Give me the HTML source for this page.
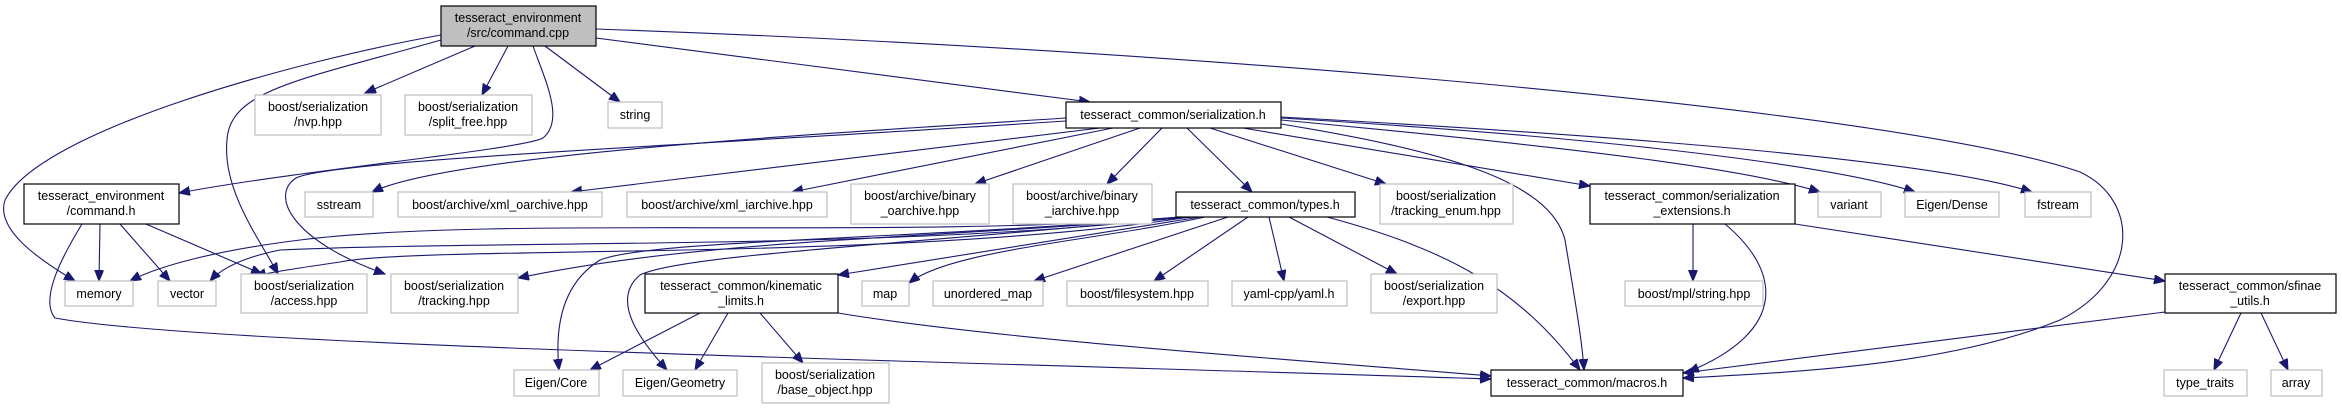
<!DOCTYPE html>
<html><head><meta charset="utf-8"><style>
html,body{margin:0;padding:0;background:#fff;}
svg{display:block;}
text{font-family:"Liberation Sans",sans-serif;font-size:12.5px;fill:#000;text-anchor:middle;}
.e{fill:none;stroke:#191970;stroke-width:1.1;marker-end:url(#a);}
.x{fill:#fff;stroke:#bfbfbf;stroke-width:1.2;}
.i{fill:#fff;stroke:#000;stroke-width:1.2;}
</style></head><body>
<svg width="2342" height="409" viewBox="0 0 2342 409" xmlns="http://www.w3.org/2000/svg">
<defs><marker id="a" markerUnits="userSpaceOnUse" markerWidth="12" markerHeight="10" refX="11" refY="4.5" orient="auto"><path d="M0,0 L11,4.5 L0,9 z" fill="#191970" stroke="#191970"/></marker></defs>
<g>
<path class="e" d="M441,35 C300,60 40,130 5,200 C-5,230 40,260 75,281"/>
<path class="e" d="M441,40 C300,80 230,90 227,140 C222,190 260,240 278,274"/>
<path class="e" d="M475,46 L365,93"/>
<path class="e" d="M508,46 L482,95"/>
<path class="e" d="M533,46 C545,80 565,120 543,138 C520,150 300,170 179,193"/>
<path class="e" d="M545,46 L620,102"/>
<path class="e" d="M596,38 L1090,102"/>
<path class="e" d="M596,29 C1200,50 1900,110 2080,172 C2140,200 2140,280 2060,320 C1950,365 1800,372 1683,378"/>
<path class="e" d="M1066,118 C800,135 450,155 372,192"/>
<path class="e" d="M1066,121 C700,145 330,160 296,178 C270,195 290,240 385,274"/>
<path class="e" d="M1100,128 L571,192"/>
<path class="e" d="M1113,128 L792,192"/>
<path class="e" d="M1140,128 L975,184"/>
<path class="e" d="M1162,128 L1107,184"/>
<path class="e" d="M1187,128 L1252,192"/>
<path class="e" d="M1210,128 L1386,184"/>
<path class="e" d="M1243,128 L1590,186"/>
<path class="e" d="M1281,124 C1440,150 1550,180 1565,240 C1575,300 1582,340 1584,370"/>
<path class="e" d="M1281,120 C1600,150 1750,170 1820,192"/>
<path class="e" d="M1281,118 C1650,140 1850,170 1915,192"/>
<path class="e" d="M1281,117 C1700,140 1950,165 2032,192"/>
<path class="e" d="M1180,217 C900,240 500,215 300,240 C220,250 160,265 130,281"/>
<path class="e" d="M1185,217 C900,250 500,240 280,250 C240,258 220,270 210,281"/>
<path class="e" d="M1190,217 C900,262 420,245 340,262 C300,268 270,272 255,276"/>
<path class="e" d="M1195,217 C900,240 700,240 518,278"/>
<path class="e" d="M1200,217 L838,275"/>
<path class="e" d="M1205,217 C1100,240 950,250 909,283"/>
<path class="e" d="M1228,217 L1034,281"/>
<path class="e" d="M1248,217 L1154,281"/>
<path class="e" d="M1269,217 L1284,281"/>
<path class="e" d="M1289,217 L1397,274"/>
<path class="e" d="M1327,217 C1450,250 1520,290 1580,370"/>
<path class="e" d="M1180,217 C900,240 650,240 600,260 C560,285 555,330 559,370"/>
<path class="e" d="M1185,217 C900,245 680,255 640,275 C610,300 640,340 667,370"/>
<path class="e" d="M100,224 L99,281"/>
<path class="e" d="M120,224 L170,281"/>
<path class="e" d="M146,224 L262,274"/>
<path class="e" d="M82,224 C60,260 40,300 55,318 C200,345 900,360 1491,379"/>
<path class="e" d="M700,313 L590,370"/>
<path class="e" d="M728,313 L695,370"/>
<path class="e" d="M760,313 L803,363"/>
<path class="e" d="M838,313 C1000,340 1300,360 1491,376"/>
<path class="e" d="M1693,224 L1693,281"/>
<path class="e" d="M1725,224 C1780,270 1790,330 1688,372"/>
<path class="e" d="M1795,224 L2165,281"/>
<path class="e" d="M2165,312 L1683,373"/>
<path class="e" d="M2241,313 L2214,370"/>
<path class="e" d="M2261,313 L2288,370"/>
</g>
<g>
<rect x="441" y="6" width="155" height="40" fill="#bfbfbf" stroke="#000" stroke-width="1.2"/>
<text x="518" y="22">tesseract_environment</text><text x="518" y="37">/src/command.cpp</text>
<rect class="x" x="255" y="95" width="126" height="40"/><text x="318" y="111">boost/serialization</text><text x="318" y="126">/nvp.hpp</text>
<rect class="x" x="405" y="95" width="127" height="40"/><text x="468" y="111">boost/serialization</text><text x="468" y="126">/split_free.hpp</text>
<rect class="x" x="608" y="102" width="54" height="26"/><text x="635" y="119">string</text>
<rect class="i" x="1066" y="102" width="215" height="26"/><text x="1173" y="119">tesseract_common/serialization.h</text>
<rect class="i" x="24" y="184" width="155" height="40"/><text x="101" y="200">tesseract_environment</text><text x="101" y="215">/command.h</text>
<rect class="x" x="305" y="192" width="68" height="25"/><text x="339" y="209">sstream</text>
<rect class="x" x="398" y="192" width="204" height="25"/><text x="500" y="209">boost/archive/xml_oarchive.hpp</text>
<rect class="x" x="627" y="192" width="200" height="25"/><text x="727" y="209">boost/archive/xml_iarchive.hpp</text>
<rect class="x" x="851" y="184" width="138" height="40"/><text x="920" y="200">boost/archive/binary</text><text x="920" y="215">_oarchive.hpp</text>
<rect class="x" x="1013" y="184" width="139" height="40"/><text x="1082" y="200">boost/archive/binary</text><text x="1082" y="215">_iarchive.hpp</text>
<rect class="i" x="1176" y="192" width="179" height="25"/><text x="1265" y="209">tesseract_common/types.h</text>
<rect class="x" x="1380" y="184" width="133" height="40"/><text x="1446" y="200">boost/serialization</text><text x="1446" y="215">/tracking_enum.hpp</text>
<rect class="i" x="1590" y="184" width="205" height="40"/><text x="1692" y="200">tesseract_common/serialization</text><text x="1692" y="215">_extensions.h</text>
<rect class="x" x="1818" y="192" width="63" height="25"/><text x="1849" y="209">variant</text>
<rect class="x" x="1905" y="192" width="94" height="25"/><text x="1952" y="209">Eigen/Dense</text>
<rect class="x" x="2025" y="192" width="66" height="25"/><text x="2058" y="209">fstream</text>
<rect class="x" x="65" y="281" width="68" height="25"/><text x="99" y="298">memory</text>
<rect class="x" x="158" y="281" width="58" height="25"/><text x="187" y="298">vector</text>
<rect class="x" x="241" y="274" width="126" height="39"/><text x="304" y="290">boost/serialization</text><text x="304" y="305">/access.hpp</text>
<rect class="x" x="391" y="274" width="127" height="39"/><text x="454" y="290">boost/serialization</text><text x="454" y="305">/tracking.hpp</text>
<rect class="i" x="645" y="274" width="193" height="39"/><text x="741" y="290">tesseract_common/kinematic</text><text x="741" y="305">_limits.h</text>
<rect class="x" x="862" y="281" width="47" height="25"/><text x="885" y="298">map</text>
<rect class="x" x="933" y="281" width="110" height="25"/><text x="988" y="298">unordered_map</text>
<rect class="x" x="1067" y="281" width="141" height="25"/><text x="1137" y="298">boost/filesystem.hpp</text>
<rect class="x" x="1232" y="281" width="115" height="25"/><text x="1289" y="298">yaml-cpp/yaml.h</text>
<rect class="x" x="1371" y="274" width="126" height="39"/><text x="1434" y="290">boost/serialization</text><text x="1434" y="305">/export.hpp</text>
<rect class="x" x="1625" y="281" width="138" height="25"/><text x="1694" y="298">boost/mpl/string.hpp</text>
<rect class="i" x="2165" y="274" width="171" height="39"/><text x="2250" y="290">tesseract_common/sfinae</text><text x="2250" y="305">_utils.h</text>
<rect class="x" x="514" y="370" width="85" height="26"/><text x="556" y="387">Eigen/Core</text>
<rect class="x" x="623" y="370" width="114" height="26"/><text x="680" y="387">Eigen/Geometry</text>
<rect class="x" x="762" y="363" width="127" height="40"/><text x="825" y="379">boost/serialization</text><text x="825" y="394">/base_object.hpp</text>
<rect class="i" x="1491" y="370" width="192" height="26"/><text x="1587" y="387">tesseract_common/macros.h</text>
<rect class="x" x="2164" y="370" width="83" height="26"/><text x="2205" y="387">type_traits</text>
<rect class="x" x="2271" y="370" width="51" height="26"/><text x="2296" y="387">array</text>
</g>
</svg>
</body></html>
